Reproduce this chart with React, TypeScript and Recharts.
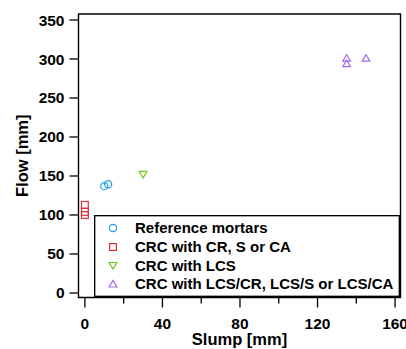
import {
  ScatterChart,
  Scatter,
  XAxis,
  YAxis,
  ReferenceArea,
  Legend,
} from 'recharts';

// slump / flow measurements per mortar group
const referenceSlump = [10, 12];
const referenceFlow = [137, 139.5];
const crSlump = [0, 0, 0];
const crFlow = [113, 104, 100];
const lcsSlump = [30];
const lcsFlow = [152];
const lcsMixSlump = [135, 135, 145];
const lcsMixFlow = [301, 294, 301];

const seriesNames = [
  'Reference mortars',
  'CRC with CR, S or CA',
  'CRC with LCS',
  'CRC with LCS/CR, LCS/S or LCS/CA',
];
const seriesColors = ['#1f9eea', '#e0303a', '#6ccb1c', '#a66ce6'];
const seriesShapes = ['circle', 'square', 'down', 'up'];

const xTicks = [0, 20, 40, 60, 80, 100, 120, 140, 160];
const xLabelTicks = [0, 40, 80, 120, 160];
const yTicks = [0, 50, 100, 150, 200, 250, 300, 350];

const X_DOMAIN: [number, number] = [-3.3, 162.8];
const Y_DOMAIN: [number, number] = [-5.8, 357.7];

const FONT = '"Liberation Sans", Arial, sans-serif';

const toPoints = (xs: number[], ys: number[]) =>
  xs.map((x, i) => ({ slump: x, flow: ys[i] }));

function Marker({ kind, x, y, color }: { kind: string; x: number; y: number; color: string }) {
  const common = { fill: 'none', stroke: color, strokeWidth: 1.2 };
  if (kind === 'circle') return <circle cx={x} cy={y} r={3.6} {...common} />;
  if (kind === 'square')
    return <rect x={x - 3.4} y={y - 3.4} width={6.8} height={6.8} {...common} />;
  if (kind === 'down')
    return (
      <path d={`M${x - 3.9},${y - 3} L${x + 3.9},${y - 3} L${x},${y + 3.6} Z`} {...common} />
    );
  return <path d={`M${x - 3.9},${y + 3} L${x + 3.9},${y + 3} L${x},${y - 3.6} Z`} {...common} />;
}

const shapeFor = (i: number) => (props: any) =>
  <Marker kind={seriesShapes[i]} x={props.cx} y={props.cy} color={seriesColors[i]} />;

// x ticks: long ticks with labels every 40, short ticks in between
function SlumpTick(props: any) {
  const { x, y, payload } = props;
  const major = xLabelTicks.includes(payload.value);
  return (
    <g>
      <line x1={x} x2={x} y1={y} y2={y + (major ? 10 : 6)} stroke="#000" strokeWidth={1.3} />
      {major && (
        <text x={x} y={y + 31} textAnchor="middle" fontSize={15.5} fontWeight="bold" fill="#000">
          {payload.value}
        </text>
      )}
    </g>
  );
}

function LegendBox() {
  const rows = [13, 32, 50.5, 69];
  return (
    <svg width={306} height={82} style={{ display: 'block' }}>
      <rect x={0.65} y={0.65} width={304.7} height={80.7} fill="#fff" stroke="#000" strokeWidth={1.4} />
      {seriesNames.map((name, i) => (
        <g key={name}>
          <Marker kind={seriesShapes[i]} x={19} y={rows[i]} color={seriesColors[i]} />
          <text
            x={41}
            y={rows[i] + 5.2}
            fontSize={15}
            fontWeight="bold"
            fill="#000"
            fontFamily={FONT}
          >
            {name}
          </text>
        </g>
      ))}
    </svg>
  );
}

export default function App() {
  return (
    <div
      style={{
        position: 'absolute',
        left: 0,
        top: 0,
        width: 406,
        height: 349,
        background: '#fff',
        fontFamily: FONT,
        fontWeight: 'bold',
      }}
    >
      <ScatterChart
        width={406}
        height={349}
        margin={{ top: 14, right: 5.5, bottom: 0, left: 18.5 }}
      >
        <XAxis
          type="number"
          dataKey="slump"
          domain={X_DOMAIN}
          allowDataOverflow
          ticks={xTicks}
          interval={0}
          axisLine={false}
          tickLine={false}
          tickSize={0}
          tickMargin={0}
          tick={<SlumpTick />}
          height={51.5}
          label={{
            value: 'Slump [mm]',
            position: 'insideBottom',
            offset: 4,
            style: { fontSize: 16.5, fontWeight: 'bold', fill: '#000' },
          }}
        />
        <YAxis
          type="number"
          dataKey="flow"
          domain={Y_DOMAIN}
          allowDataOverflow
          ticks={yTicks}
          interval={0}
          width={60}
          axisLine={false}
          tickSize={9}
          tickMargin={5}
          tickLine={{ stroke: '#000', strokeWidth: 1.3 }}
          tick={{ fill: '#000', fontSize: 15.5, fontWeight: 'bold' }}
          label={{
            value: 'Flow [mm]',
            angle: -90,
            position: 'insideLeft',
            offset: 3.5,
            style: { fontSize: 16.5, fontWeight: 'bold', fill: '#000', textAnchor: 'middle' },
          }}
        />
        <ReferenceArea
          x1={X_DOMAIN[0]}
          x2={X_DOMAIN[1]}
          y1={Y_DOMAIN[0]}
          y2={Y_DOMAIN[1]}
          fill="none"
          stroke="#000"
          strokeWidth={1.4}
          ifOverflow="visible"
        />
        <Scatter
          name={seriesNames[0]}
          data={toPoints(referenceSlump, referenceFlow)}
          shape={shapeFor(0)}
          isAnimationActive={false}
        />
        <Scatter
          name={seriesNames[1]}
          data={toPoints(crSlump, crFlow)}
          shape={shapeFor(1)}
          isAnimationActive={false}
        />
        <Scatter
          name={seriesNames[2]}
          data={toPoints(lcsSlump, lcsFlow)}
          shape={shapeFor(2)}
          isAnimationActive={false}
        />
        <Scatter
          name={seriesNames[3]}
          data={toPoints(lcsMixSlump, lcsMixFlow)}
          shape={shapeFor(3)}
          isAnimationActive={false}
        />
        <Legend
          layout="horizontal"
          verticalAlign="middle"
          align="center"
          wrapperStyle={{ left: 94, top: 215, width: 306, height: 82 }}
          content={() => <LegendBox />}
        />
      </ScatterChart>
    </div>
  );
}
